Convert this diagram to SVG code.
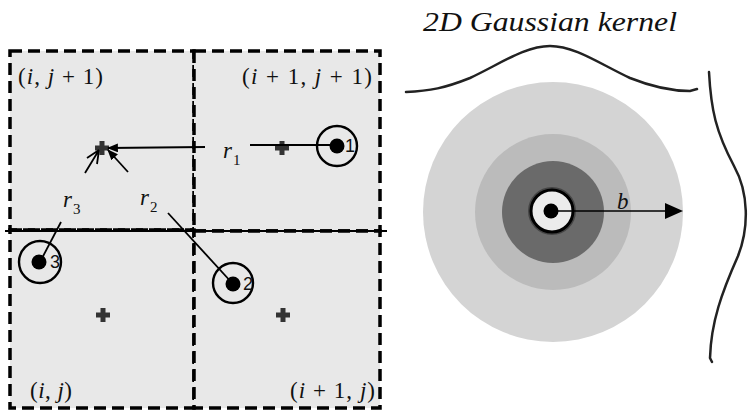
<svg xmlns="http://www.w3.org/2000/svg" width="748" height="414" viewBox="0 0 748 414">
<style>
.cell{fill:#e8e8e8;stroke:#000;stroke-width:3.5;stroke-dasharray:12 6}
.math{font-family:"Liberation Serif",serif;font-size:23px;fill:#111}
.it{font-style:italic}
.num{font-family:"Liberation Sans",sans-serif;font-size:18px;fill:#111}
.ln{stroke:#000;stroke-width:1.8;fill:none}
.ring{fill:none;stroke:#000;stroke-width:2.4}
.curve{fill:none;stroke:#222;stroke-width:2.5;stroke-linecap:round}
</style>
<defs>
<path id="plus" d="M-7,-2.5 h14 v5 h-14z M-2.5,-7 h5 v14 h-5z" fill="#333"/>
<marker id="ah" viewBox="0 0 10 8" refX="9" refY="4" markerWidth="11" markerHeight="9" markerUnits="userSpaceOnUse" orient="auto">
<path d="M0,0 L10,4 L0,8 z" fill="#000"/>
</marker>
</defs>

<g id="cell-i-j1">
<rect class="cell" x="10" y="51" width="184" height="179"/>
<text class="math" x="18" y="84" textLength="85" lengthAdjust="spacing">(<tspan class="it">i</tspan>, <tspan class="it">j</tspan> + 1)</text>
</g>
<g id="cell-i1-j1">
<rect class="cell" x="194" y="51" width="186" height="180"/>
<text class="math" x="242" y="84" textLength="130" lengthAdjust="spacing">(<tspan class="it">i</tspan> + 1, <tspan class="it">j</tspan> + 1)</text>
</g>
<g id="cell-i-j">
<rect class="cell" x="10" y="230" width="184" height="178"/>
<text class="math" x="30" y="398" textLength="42" lengthAdjust="spacing">(<tspan class="it">i</tspan>, <tspan class="it">j</tspan>)</text>
</g>
<g id="cell-i1-j">
<rect class="cell" x="194" y="231" width="186" height="177"/>
<text class="math" x="290" y="398" textLength="85" lengthAdjust="spacing">(<tspan class="it">i</tspan> + 1, <tspan class="it">j</tspan>)</text>
</g>
<line x1="5" y1="231" x2="387" y2="231" stroke="#000" stroke-width="1.8"/>

<g id="centers">
<use href="#plus" x="102" y="148"/>
<use href="#plus" x="282" y="148"/>
<use href="#plus" x="103" y="315"/>
<use href="#plus" x="283" y="315"/>
</g>

<g id="particle-1">
<circle class="ring" cx="337" cy="146" r="20"/>
<circle cx="337" cy="146" r="7.5" fill="#000"/>
<text class="num" x="345" y="152">1</text>
</g>
<g id="particle-2">
<circle class="ring" cx="233" cy="283" r="20"/>
<circle cx="233" cy="284" r="7.5" fill="#000"/>
<text class="num" x="243" y="290">2</text>
</g>
<g id="particle-3">
<circle class="ring" cx="40" cy="262" r="21"/>
<circle cx="39" cy="262" r="7.5" fill="#000"/>
<text class="num" x="50" y="268">3</text>
</g>

<g id="connectors">
<path class="ln" d="M337,145 L250,145"/>
<path class="ln" d="M205,147 L108,148" marker-end="url(#ah)"/>
<path class="ln" d="M233,284 L168,213"/>
<path class="ln" d="M128,172 L108,150" marker-end="url(#ah)"/>
<path class="ln" d="M40,262 L61,222"/>
<path class="ln" d="M85,173 L99,150 M99,150 L87,158 M99,150 L97,164" stroke-width="2.2"/>
</g>

<g id="r-labels">
<text class="math it" x="223" y="158">r<tspan font-size="15" font-style="normal" dx="1" dy="7">1</tspan></text>
<text class="math it" x="140" y="205">r<tspan font-size="15" font-style="normal" dx="1" dy="7">2</tspan></text>
<text class="math it" x="63" y="207">r<tspan font-size="15" font-style="normal" dx="1" dy="7">3</tspan></text>
</g>

<text x="423" y="31" font-family="Liberation Serif, serif" font-style="italic" font-size="28" fill="#111" textLength="254" lengthAdjust="spacingAndGlyphs">2D Gaussian kernel</text>

<g id="kernel">
<circle cx="553" cy="212" r="130" fill="#d4d4d4"/>
<circle cx="553" cy="212" r="78" fill="#bbbbbb"/>
<circle cx="553" cy="212" r="51" fill="#6a6a6a"/>
<circle cx="552" cy="211" r="24" fill="#444"/>
<circle cx="552" cy="211" r="21" fill="#ececec" stroke="#000" stroke-width="3"/>
<circle cx="551" cy="211" r="7.5" fill="#000"/>
<line x1="553" y1="211" x2="667" y2="211" stroke="#000" stroke-width="1.6"/>
<polygon points="665,203 683,211 665,219" fill="#000"/>
<text class="math it" x="617" y="209">b</text>
</g>

<path id="gauss-x" class="curve" d="M406,92 C430,91 445,88 470,78 C500,64 525,46 550,46 C575,46 600,64 630,78 C655,88 675,91 690,91 L697,89"/>
<path id="gauss-y" class="curve" d="M709,72 C711,110 716,132 734,166 C749,193 749,228 738,256 C722,292 711,322 710,358 L712,362"/>
</svg>
